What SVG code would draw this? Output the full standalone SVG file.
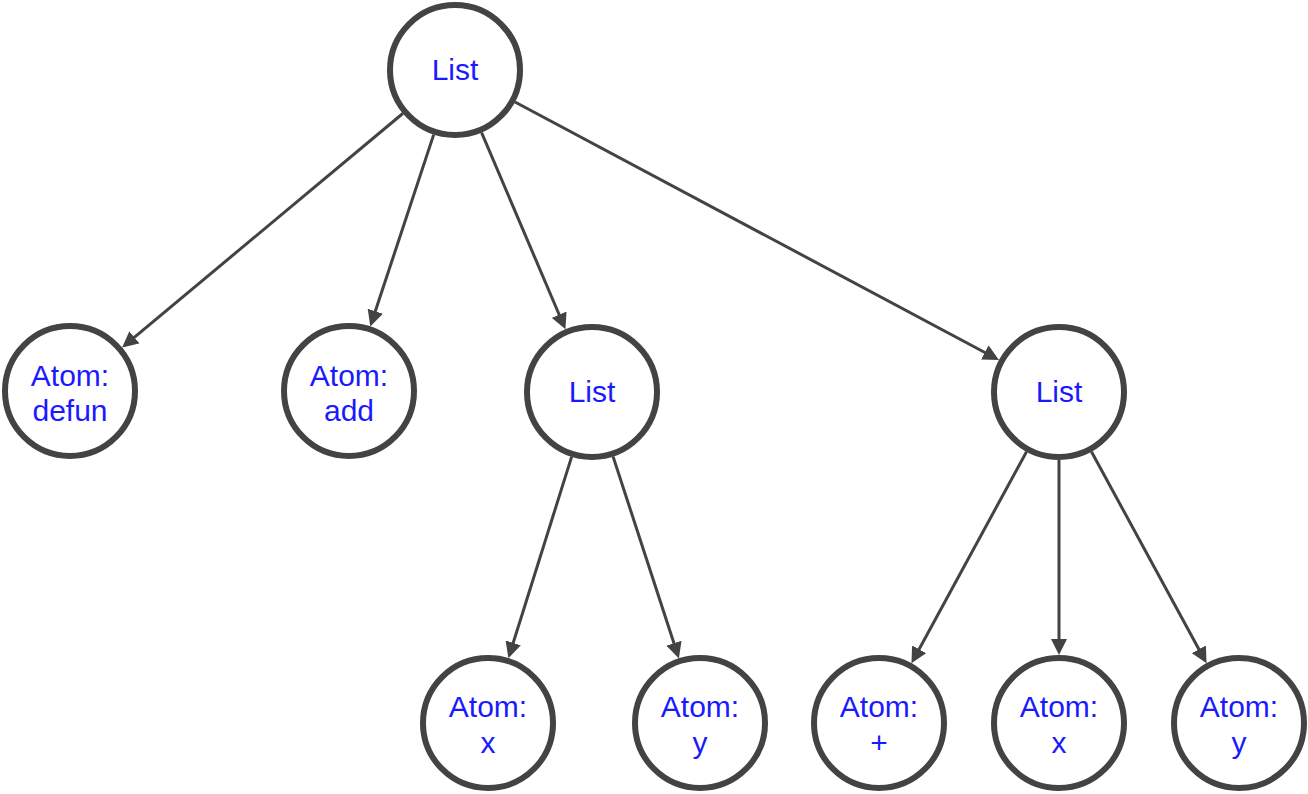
<svg xmlns="http://www.w3.org/2000/svg" width="1308" height="794" viewBox="0 0 1308 794">
<style>
.n{fill:#fff;stroke:#434343;stroke-width:6}
.t{font-family:"Liberation Sans",Arial,sans-serif;font-size:30px;fill:#1a1aff;text-anchor:middle}
.e{stroke:#434343;stroke-width:3;fill:none}
</style>
<defs>
<marker id="ah" markerUnits="userSpaceOnUse" markerWidth="16" markerHeight="16" refX="8" refY="8" orient="auto" viewBox="0 0 16 16">
<path d="M0,0 L16,8 L0,16 z" fill="#434343"/>
</marker>
</defs>
<rect width="1308" height="794" fill="#fff"/>
<g id="connectors">
<line class="e" x1="402.8" y1="113.5" x2="128.3" y2="342.4" marker-end="url(#ah)"/>
<line class="e" x1="433.7" y1="134.6" x2="372.8" y2="318.8" marker-end="url(#ah)"/>
<line class="e" x1="481.6" y1="132.6" x2="562.3" y2="322.0" marker-end="url(#ah)"/>
<line class="e" x1="515" y1="102" x2="991.9" y2="356.2" marker-end="url(#ah)"/>
<line class="e" x1="571.6" y1="456.9" x2="510.8" y2="650.5" marker-end="url(#ah)"/>
<line class="e" x1="613.1" y1="456.6" x2="676.4" y2="650.8" marker-end="url(#ah)"/>
<line class="e" x1="1026.5" y1="451.7" x2="915.3" y2="656.3" marker-end="url(#ah)"/>
<line class="e" x1="1059" y1="460" x2="1059" y2="647" marker-end="url(#ah)"/>
<line class="e" x1="1091.5" y1="451.7" x2="1202.7" y2="656.3" marker-end="url(#ah)"/>
</g>
<g id="root"><circle class="n" cx="455" cy="70" r="65"/><text class="t" x="455" y="80">List</text></g>
<g id="defun"><circle class="n" cx="70" cy="391" r="65"/><text class="t" x="70" y="386">Atom:</text><text class="t" x="70" y="421">defun</text></g>
<g id="add"><circle class="n" cx="349" cy="391" r="65"/><text class="t" x="349" y="386">Atom:</text><text class="t" x="349" y="421">add</text></g>
<g id="listM"><circle class="n" cx="592" cy="392" r="65"/><text class="t" x="592" y="402">List</text></g>
<g id="listR"><circle class="n" cx="1059" cy="392" r="65"/><text class="t" x="1059" y="402">List</text></g>
<g id="atomX1"><circle class="n" cx="488" cy="723" r="65"/><text class="t" x="488" y="717">Atom:</text><text class="t" x="488" y="753">x</text></g>
<g id="atomY1"><circle class="n" cx="700" cy="723" r="65"/><text class="t" x="700" y="717">Atom:</text><text class="t" x="700" y="753">y</text></g>
<g id="atomPlus"><circle class="n" cx="879" cy="723" r="65"/><text class="t" x="879" y="717">Atom:</text><text class="t" x="879" y="753">+</text></g>
<g id="atomX2"><circle class="n" cx="1059" cy="723" r="65"/><text class="t" x="1059" y="717">Atom:</text><text class="t" x="1059" y="753">x</text></g>
<g id="atomY2"><circle class="n" cx="1239" cy="723" r="65"/><text class="t" x="1239" y="717">Atom:</text><text class="t" x="1239" y="753">y</text></g>
</svg>
